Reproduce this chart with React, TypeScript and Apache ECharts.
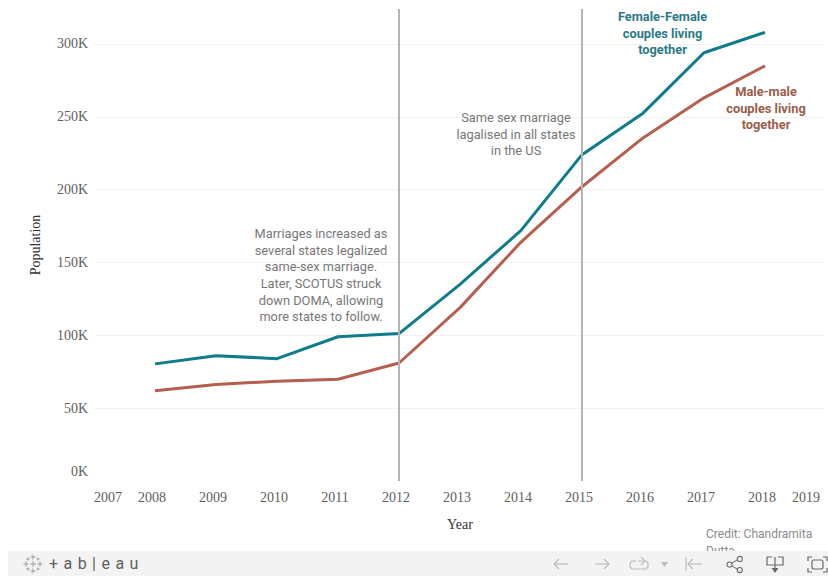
import React, { useEffect, useRef } from "react";
import * as echarts from "echarts";

const years = [2008, 2009, 2010, 2011, 2012, 2013, 2014, 2015, 2016, 2017, 2018];
const femaleCouples = [80400, 86000, 84000, 99000, 101200, 135000, 172000, 224000, 252500, 294000, 308000];
const maleCouples = [62000, 66300, 68500, 69800, 81000, 119000, 164000, 202000, 235500, 263000, 285000];
const legalisationYears = [2012, 2015];
const yTicks = [0, 50000, 100000, 150000, 200000, 250000, 300000];

const TEAL = "#0e7c8b";
const BROWN = "#b5604f";
const NOTE = "#777777";
const SERIF = "Liberation Serif";
const SANS = "Roboto";
const ICON = "#bcbcbc";
const DARK_ICON = "#6a6a6a";
const TICK_COLOR = "#606060";

echarts.graphic.registerShape(
  "shareIcon",
  echarts.graphic.extendPath(
    "M5 9 L13 4 M5 11 L13 16 M6 10 a3 3 0 1 1 -6 0 a3 3 0 1 1 6 0 M18 3.5 a3 3 0 1 1 -6 0 a3 3 0 1 1 6 0 M18 16.5 a3 3 0 1 1 -6 0 a3 3 0 1 1 6 0",
    {}
  )
);

const seriesLine = (name: string, values: number[], color: string) => ({
  name,
  type: "line",
  data: years.map((y, i) => [y, values[i]]),
  symbol: "none",
  z: 3,
  lineStyle: { color, width: 3, join: "round" },
});

const stroke = (points: number[][], color: string) => ({
  type: "polyline",
  shape: { points },
  style: { stroke: color, fill: "none", lineWidth: 1.2 },
  silent: true,
  z: 22,
});

const note = (x: number, y: number, text: string, color: string, weight: string) => ({
  type: "text",
  x,
  y,
  z: 10,
  style: { text, fill: color, font: `${weight} 12.8px ${SANS}`, align: "center", verticalAlign: "top", lineHeight: 16.7 },
});

// Small four-armed crosses that make up the logo mark
const logoCrosses = [
  [33, 557, 2.5], [33, 571, 2.5], [26, 564, 2.5], [40, 564, 2.5], [33, 564, 3],
  [28, 559, 1.5], [38, 559, 1.5], [28, 569, 1.5], [38, 569, 1.5],
].flatMap(([cx, cy, r]) => [
  { type: "line", shape: { x1: cx - r, y1: cy, x2: cx + r, y2: cy }, style: { stroke: "#969696", lineWidth: 0.9 }, z: 22 },
  { type: "line", shape: { x1: cx, y1: cy - r, x2: cx, y2: cy + r }, style: { stroke: "#969696", lineWidth: 0.9 }, z: 22 },
]);

const option = {
  animation: false,
  backgroundColor: "#ffffff",
  grid: { left: 94, right: 2, top: 9, bottom: 95, containLabel: false },
  xAxis: {
    type: "value",
    min: 2007,
    max: 2019,
    interval: 1,
    name: "Year",
    nameLocation: "middle",
    nameGap: 36,
    nameTextStyle: { fontFamily: SERIF, fontSize: 14, color: "#333333" },
    axisLine: { show: false },
    axisTick: { show: false },
    splitLine: { show: false },
    axisLabel: {
      fontFamily: SERIF,
      fontSize: 14,
      color: TICK_COLOR,
      margin: 9,
      padding: [0, 6, 0, 0],
      alignMinLabel: "left",
      alignMaxLabel: "right",
      formatter: (v: number) => String(v),
    },
  },
  yAxis: {
    type: "value",
    min: 0,
    max: 324000,
    interval: 50000,
    name: "Population",
    nameLocation: "middle",
    nameGap: 52,
    nameTextStyle: { fontFamily: SERIF, fontSize: 14, color: "#333333" },
    axisLine: { show: false },
    axisTick: { show: false },
    splitLine: { show: true, showMinLine: false, showMaxLine: false, lineStyle: { color: "#f2f2f2", width: 1 } },
    axisLabel: {
      fontFamily: SERIF,
      fontSize: 14,
      color: TICK_COLOR,
      margin: 6,
      showMaxLabel: false,
      verticalAlignMinLabel: "bottom",
      // The baseline label sits a little higher so it clears the year labels
      rich: { base: { fontFamily: SERIF, fontSize: 14, color: TICK_COLOR, padding: [0, 0, 3, 0] } },
      formatter: (v: number) => {
        if (v === 0) return "{base|0K}";
        return yTicks.includes(v) ? `${v / 1000}K` : "";
      },
    },
  },
  series: [
    {
      ...seriesLine("Female-Female couples living together", femaleCouples, TEAL),
      markLine: {
        silent: true,
        symbol: "none",
        label: { show: false },
        lineStyle: { color: "#b4b4b4", width: 2, type: "solid", opacity: 1 },
        data: legalisationYears.map((y) => ({ xAxis: y })),
      },
    },
    seriesLine("Male-male couples living together", maleCouples, BROWN),
  ],
  graphic: [
    note(321, 225, "Marriages increased as\nseveral states legalized\nsame-sex marriage.\nLater, SCOTUS struck\ndown DOMA, allowing\nmore states to follow.", NOTE, "400"),
    note(516, 109, "Same sex marriage\nlagalised in all states\nin the US", NOTE, "400"),
    note(662.5, 8, "Female-Female\ncouples living\ntogether", "#2a7b86", "700"),
    note(766, 83, "Male-male\ncouples living\ntogether", "#9a5d49", "700"),
    {
      type: "text",
      x: 706,
      y: 525,
      z: 10,
      style: { text: "Credit: Chandramita\nDutta", fill: "#8a8a8a", font: `400 12px ${SANS}`, lineHeight: 17 },
    },
    { type: "rect", shape: { x: 8, y: 551, width: 820, height: 25 }, style: { fill: "#f3f3f3" }, z: 20 },
    ...logoCrosses,
    {
      type: "text",
      x: 49,
      y: 555,
      z: 22,
      style: { text: "+\u2004a\u2004b\u2004|\u2004e\u2004a\u2004u", fill: "#5e5e5e", font: `400 16px ${SANS}`, verticalAlign: "top" },
    },
    stroke([[568, 564], [554, 564]], ICON),
    stroke([[559, 559], [554, 564], [559, 569]], ICON),
    stroke([[595, 564], [609, 564]], ICON),
    stroke([[604, 559], [609, 564], [604, 569]], ICON),
    stroke([[636, 561], [632, 561], [630, 563], [630, 567], [632, 569], [646, 569], [648, 567], [648, 563], [646, 561], [638, 561]], ICON),
    stroke([[641, 557], [645, 561], [641, 565]], ICON),
    { type: "polygon", shape: { points: [[661, 562], [668, 562], [664.5, 567]] }, style: { fill: ICON }, z: 22 },
    stroke([[686, 557], [686, 571]], ICON),
    stroke([[702, 564], [688, 564]], ICON),
    stroke([[693, 559], [688, 564], [693, 569]], ICON),
    { type: "shareIcon", x: 727, y: 556, scaleX: 0.85, scaleY: 0.85, style: { stroke: DARK_ICON, fill: "none", lineWidth: 1.3 }, z: 22 },
    stroke([[772, 557], [767, 557], [767, 565], [783, 565], [783, 557], [778, 557]], DARK_ICON),
    stroke([[775, 557], [775, 569]], DARK_ICON),
    { type: "polygon", shape: { points: [[771.5, 568], [778.5, 568], [775, 573]] }, style: { fill: DARK_ICON }, z: 22 },
    { type: "rect", shape: { x: 812, y: 560, width: 11, height: 9, r: 2 }, style: { stroke: DARK_ICON, fill: "none", lineWidth: 1.2 }, z: 22 },
    stroke([[808, 561], [808, 557], [812, 557]], DARK_ICON),
    stroke([[823, 557], [827, 557], [827, 561]], DARK_ICON),
    stroke([[808, 568], [808, 572], [812, 572]], DARK_ICON),
    stroke([[823, 572], [827, 572], [827, 568]], DARK_ICON),
  ],
};

export default function App() {
  const ref = useRef<HTMLDivElement>(null);
  useEffect(() => {
    const chart = echarts.init(ref.current!, undefined, { renderer: "svg" });
    chart.setOption(option);
    return () => chart.dispose();
  }, []);
  return <div ref={ref} style={{ position: "fixed", left: 0, top: 0, width: 828, height: 576 }} />;
}
